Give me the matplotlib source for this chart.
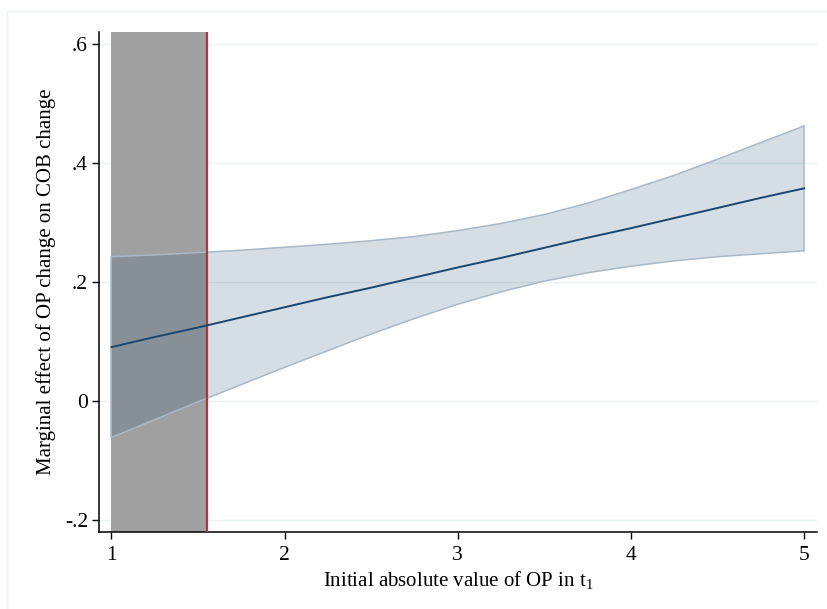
import matplotlib
matplotlib.use("Agg")
import matplotlib.pyplot as plt
from matplotlib.lines import Line2D

# marginal effect of OP change on COB change, with 95% CI
op_value = [1.0, 1.25, 1.5, 1.75, 2.0, 2.25, 2.5, 2.75, 3.0,
            3.25, 3.5, 3.75, 4.0, 4.25, 4.5, 4.75, 5.0]
effect = [0.090, 0.107, 0.123, 0.140, 0.157, 0.174, 0.190, 0.207, 0.224,
          0.240, 0.257, 0.274, 0.290, 0.307, 0.324, 0.341, 0.357]
ci_upper = [0.242, 0.245, 0.249, 0.253, 0.258, 0.263, 0.269, 0.276, 0.286,
            0.298, 0.313, 0.332, 0.355, 0.379, 0.406, 0.434, 0.462]
ci_lower = [-0.062, -0.032, -0.002, 0.027, 0.056, 0.084, 0.112, 0.138, 0.162,
            0.183, 0.201, 0.215, 0.226, 0.235, 0.242, 0.247, 0.252]

# region where the effect is not significant
band_start = 1.0
threshold = 1.55

x_ticks = [1, 2, 3, 4, 5]
y_ticks = [-0.2, 0, 0.2, 0.4, 0.6]
y_tick_labels = ["-.2", "0", ".2", ".4", ".6"]

NAVY = "#1a476f"

plt.rcParams['font.family'] = ['Liberation Serif', 'DejaVu Serif']

fig = plt.figure(figsize=(8.28, 6.09), dpi=100)
ax = fig.add_axes([99 / 828, 1 - 532 / 609, 718 / 828, 500 / 609])

# faint outer frame (Stata plot region)
fig.add_artist(Line2D([7 / 828, 1], [1 - 10.5 / 609] * 2, transform=fig.transFigure,
                      color="#eef4f5", lw=1))
fig.add_artist(Line2D([7 / 828] * 2, [0, 1 - 10.5 / 609], transform=fig.transFigure,
                      color="#eef4f5", lw=1))

for y in y_ticks:
    ax.axhline(y, color="#eaf2f3", lw=1, zorder=0)

ax.axvspan(band_start, threshold, color="#a0a0a0", lw=0, zorder=1)
ax.axvline(threshold, color="#a83a3a", lw=1.6, zorder=4)

ax.fill_between(op_value, ci_lower, ci_upper, facecolor=NAVY, alpha=0.18,
                edgecolor="none", zorder=2)
ax.plot(op_value, ci_upper, color="#a9b9c8", lw=1.1, zorder=3)
ax.plot(op_value, ci_lower, color="#a9b9c8", lw=1.1, zorder=3)
ax.plot([op_value[0]] * 2, [ci_lower[0], ci_upper[0]], color="#a9b9c8", lw=1.1, zorder=3)
ax.plot([op_value[-1]] * 2, [ci_lower[-1], ci_upper[-1]], color="#a9b9c8", lw=1.1, zorder=3)
ax.plot(op_value, effect, color=NAVY, lw=1.4, zorder=5)

ax.set_xlim(0.928, 5.075)
ax.set_ylim(-0.221, 0.62)
ax.set_xticks(x_ticks)
ax.set_yticks(y_ticks)
ax.set_yticklabels(y_tick_labels)
ax.tick_params(axis="both", direction="out", length=5, width=1, labelsize=15.5, colors="black")
ax.tick_params(axis="y", pad=3)
ax.tick_params(axis="x", pad=5)

for side in ["top", "right"]:
    ax.spines[side].set_visible(False)
for side in ["left", "bottom"]:
    ax.spines[side].set_linewidth(1.1)

ax.set_xlabel("Initial absolute value of OP in t$_\\mathregular{1}$", fontsize=15, labelpad=3)
ax.set_ylabel("Marginal effect of OP change on COB change", fontsize=15, labelpad=6)

fig.savefig("out.png", dpi=100)
